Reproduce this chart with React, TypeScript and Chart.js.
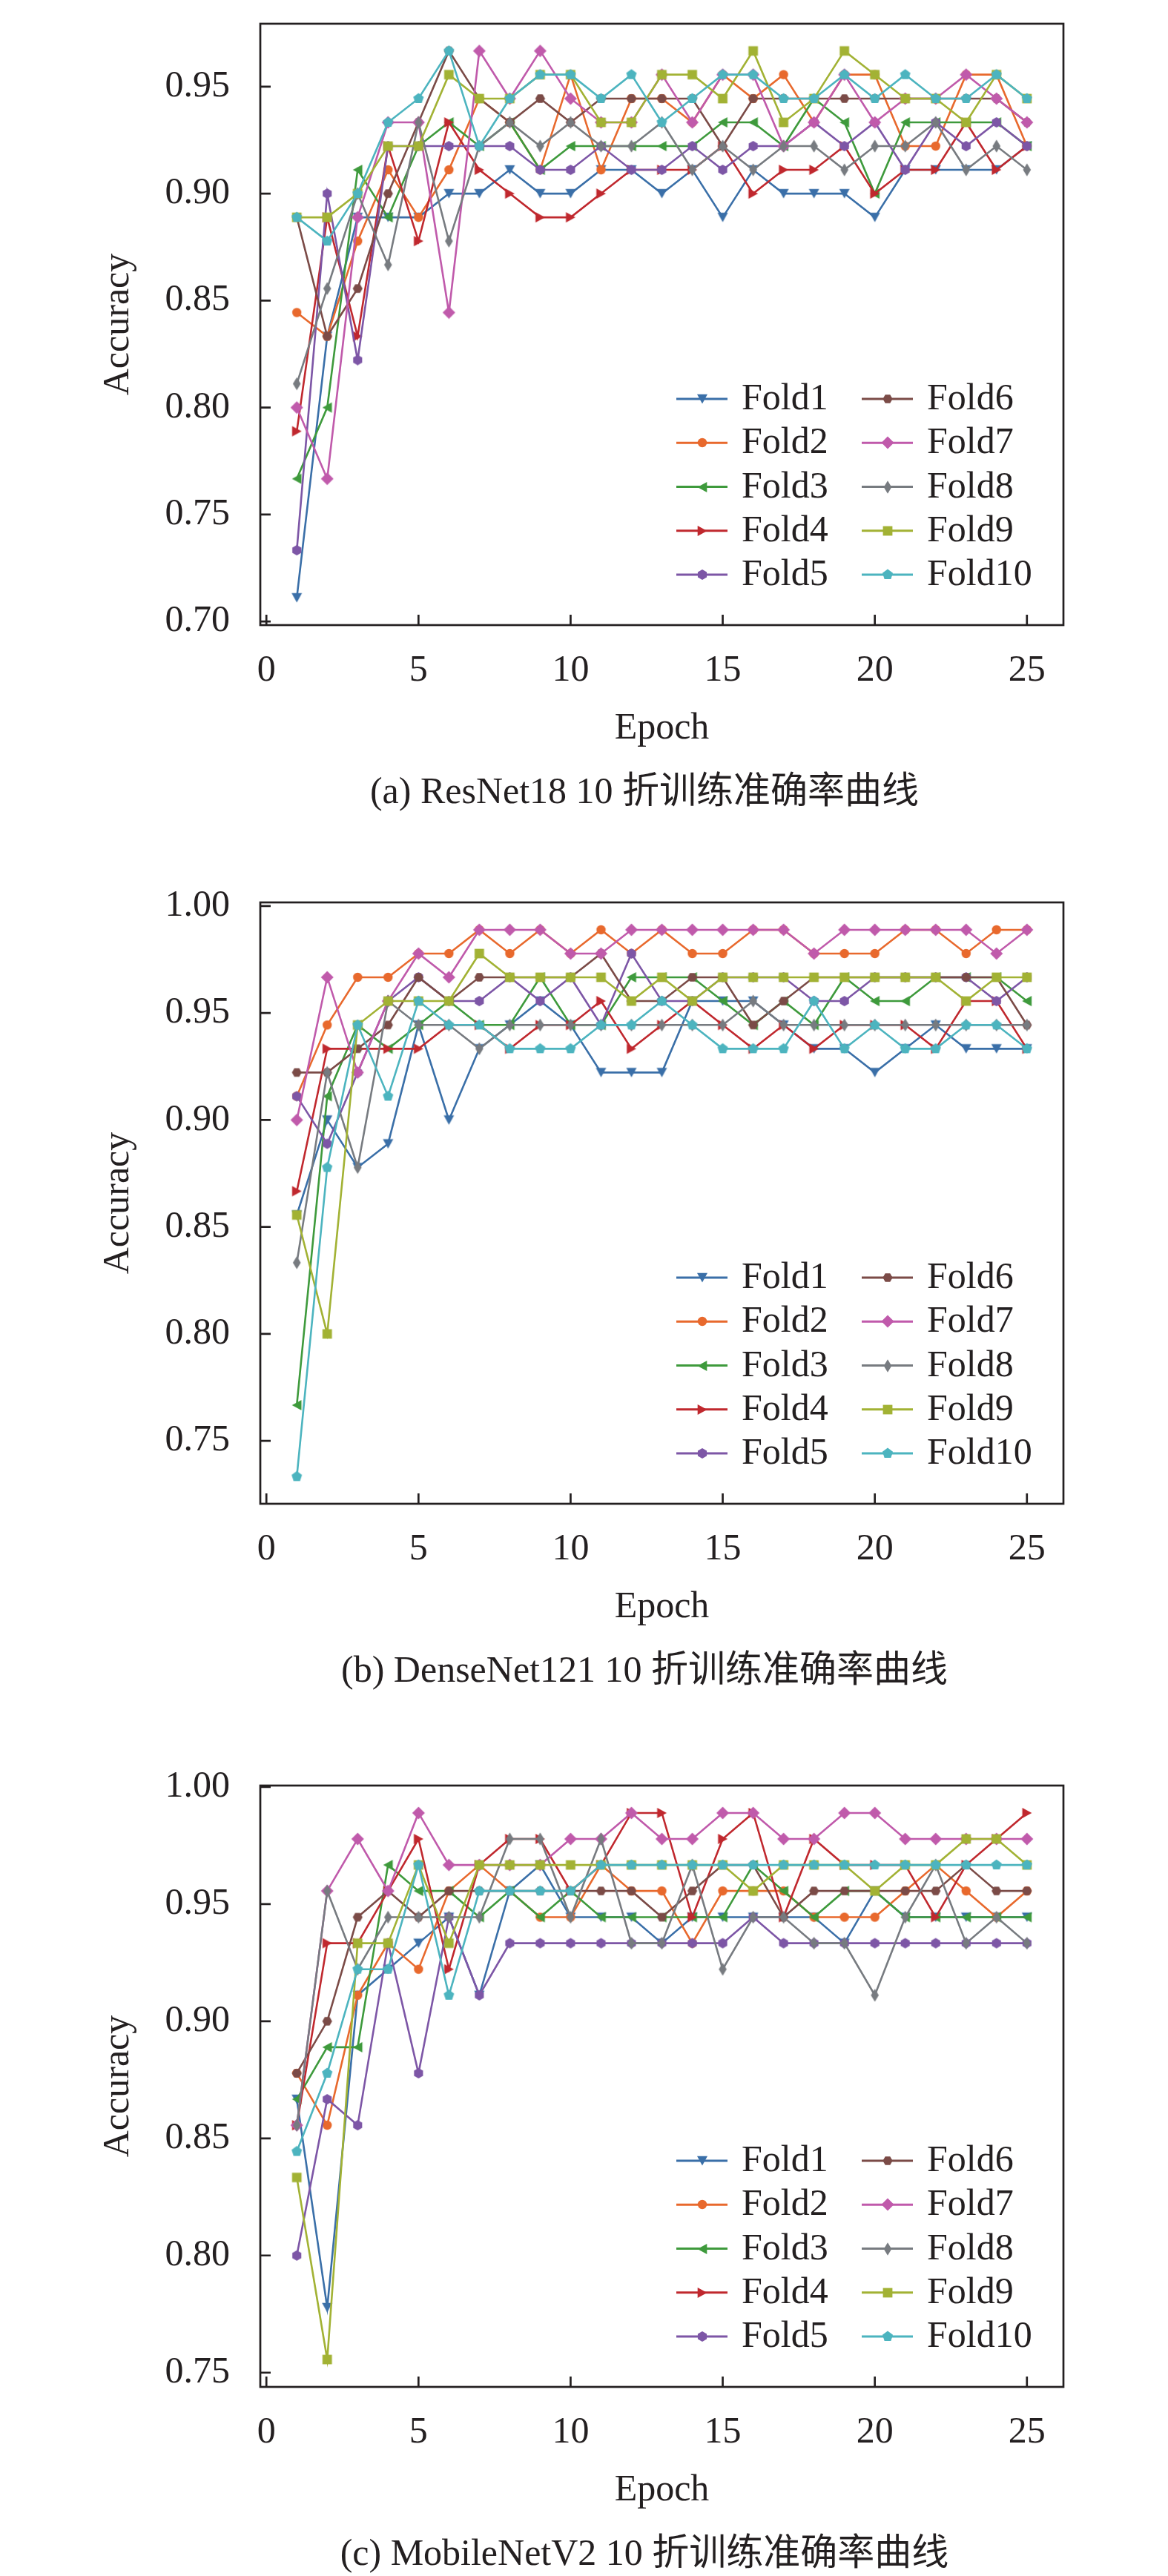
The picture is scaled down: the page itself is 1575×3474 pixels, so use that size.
import React, { useEffect, useRef } from 'react';
import { Chart, registerables } from 'chart.js';

Chart.register(...registerables);

// ---------- shared categories / ticks ----------
const epochs = [1, 2, 3, 4, 5, 6, 7, 8, 9, 10, 11, 12, 13, 14, 15, 16, 17, 18, 19, 20, 21, 22, 23, 24, 25];
const foldLabels = ['Fold1', 'Fold2', 'Fold3', 'Fold4', 'Fold5', 'Fold6', 'Fold7', 'Fold8', 'Fold9', 'Fold10'];
const xTicks = [0, 5, 10, 15, 20, 25];
const yTicksResNet = [0.7, 0.75, 0.8, 0.85, 0.9, 0.95];
const yTicksDense = [0.75, 0.8, 0.85, 0.9, 0.95, 1.0];
const yTicksMobile = [0.75, 0.8, 0.85, 0.9, 0.95, 1.0];

// ---------- (a) ResNet18 ----------
const resFold1 = [0.7111, 0.8333, 0.8889, 0.8889, 0.8889, 0.9000, 0.9000, 0.9111, 0.9000, 0.9000, 0.9111, 0.9111, 0.9000, 0.9111, 0.8889, 0.9111, 0.9000, 0.9000, 0.9000, 0.8889, 0.9111, 0.9111, 0.9111, 0.9111, 0.9222];
const resFold2 = [0.8444, 0.8333, 0.8778, 0.9111, 0.8889, 0.9111, 0.9444, 0.9333, 0.9111, 0.9556, 0.9111, 0.9444, 0.9444, 0.9333, 0.9556, 0.9444, 0.9556, 0.9333, 0.9556, 0.9556, 0.9222, 0.9222, 0.9556, 0.9556, 0.9222];
const resFold3 = [0.7667, 0.8000, 0.9111, 0.8889, 0.9222, 0.9333, 0.9222, 0.9333, 0.9111, 0.9222, 0.9222, 0.9222, 0.9222, 0.9222, 0.9333, 0.9333, 0.9222, 0.9444, 0.9333, 0.9000, 0.9333, 0.9333, 0.9333, 0.9333, 0.9222];
const resFold4 = [0.7889, 0.8889, 0.8333, 0.9222, 0.8778, 0.9333, 0.9111, 0.9000, 0.8889, 0.8889, 0.9000, 0.9111, 0.9111, 0.9111, 0.9222, 0.9000, 0.9111, 0.9111, 0.9222, 0.9000, 0.9111, 0.9111, 0.9333, 0.9111, 0.9222];
const resFold5 = [0.7333, 0.9000, 0.8222, 0.9222, 0.9222, 0.9222, 0.9222, 0.9222, 0.9111, 0.9111, 0.9222, 0.9111, 0.9111, 0.9222, 0.9111, 0.9222, 0.9222, 0.9333, 0.9222, 0.9333, 0.9111, 0.9333, 0.9222, 0.9333, 0.9222];
const resFold6 = [0.8889, 0.8333, 0.8556, 0.9000, 0.9333, 0.9667, 0.9444, 0.9333, 0.9444, 0.9333, 0.9444, 0.9444, 0.9444, 0.9444, 0.9222, 0.9444, 0.9444, 0.9444, 0.9444, 0.9444, 0.9444, 0.9444, 0.9444, 0.9444, 0.9333];
const resFold7 = [0.8000, 0.7667, 0.8889, 0.9333, 0.9333, 0.8444, 0.9667, 0.9444, 0.9667, 0.9444, 0.9333, 0.9333, 0.9556, 0.9333, 0.9556, 0.9556, 0.9222, 0.9333, 0.9556, 0.9333, 0.9444, 0.9444, 0.9556, 0.9444, 0.9333];
const resFold8 = [0.8111, 0.8556, 0.9000, 0.8667, 0.9333, 0.8778, 0.9222, 0.9333, 0.9222, 0.9333, 0.9222, 0.9222, 0.9333, 0.9111, 0.9222, 0.9111, 0.9222, 0.9222, 0.9111, 0.9222, 0.9222, 0.9333, 0.9111, 0.9222, 0.9111];
const resFold9 = [0.8889, 0.8889, 0.9000, 0.9222, 0.9222, 0.9556, 0.9444, 0.9444, 0.9556, 0.9556, 0.9333, 0.9333, 0.9556, 0.9556, 0.9444, 0.9667, 0.9333, 0.9444, 0.9667, 0.9556, 0.9444, 0.9444, 0.9333, 0.9556, 0.9444];
const resFold10 = [0.8889, 0.8778, 0.9000, 0.9333, 0.9444, 0.9667, 0.9222, 0.9444, 0.9556, 0.9556, 0.9444, 0.9556, 0.9333, 0.9444, 0.9556, 0.9556, 0.9444, 0.9444, 0.9556, 0.9444, 0.9556, 0.9444, 0.9444, 0.9556, 0.9444];

// ---------- (b) DenseNet121 ----------
const denseFold1 = [0.8556, 0.9000, 0.8778, 0.8889, 0.9444, 0.9000, 0.9333, 0.9444, 0.9556, 0.9444, 0.9222, 0.9222, 0.9222, 0.9556, 0.9556, 0.9556, 0.9444, 0.9333, 0.9333, 0.9222, 0.9333, 0.9444, 0.9333, 0.9333, 0.9333];
const denseFold2 = [0.9111, 0.9444, 0.9667, 0.9667, 0.9778, 0.9778, 0.9889, 0.9778, 0.9889, 0.9778, 0.9889, 0.9778, 0.9889, 0.9778, 0.9778, 0.9889, 0.9889, 0.9778, 0.9778, 0.9778, 0.9889, 0.9889, 0.9778, 0.9889, 0.9889];
const denseFold3 = [0.7667, 0.9111, 0.9444, 0.9333, 0.9444, 0.9556, 0.9444, 0.9444, 0.9667, 0.9444, 0.9444, 0.9667, 0.9667, 0.9667, 0.9556, 0.9444, 0.9556, 0.9444, 0.9667, 0.9556, 0.9556, 0.9667, 0.9667, 0.9667, 0.9556];
const denseFold4 = [0.8667, 0.9333, 0.9333, 0.9333, 0.9333, 0.9444, 0.9444, 0.9333, 0.9444, 0.9444, 0.9556, 0.9333, 0.9444, 0.9556, 0.9444, 0.9333, 0.9444, 0.9333, 0.9444, 0.9444, 0.9444, 0.9333, 0.9556, 0.9556, 0.9333];
const denseFold5 = [0.9111, 0.8889, 0.9222, 0.9556, 0.9667, 0.9556, 0.9556, 0.9667, 0.9556, 0.9667, 0.9444, 0.9778, 0.9556, 0.9556, 0.9667, 0.9667, 0.9667, 0.9556, 0.9556, 0.9667, 0.9667, 0.9667, 0.9667, 0.9556, 0.9667];
const denseFold6 = [0.9222, 0.9222, 0.9333, 0.9444, 0.9667, 0.9556, 0.9667, 0.9667, 0.9667, 0.9667, 0.9778, 0.9556, 0.9556, 0.9667, 0.9667, 0.9444, 0.9556, 0.9667, 0.9667, 0.9667, 0.9667, 0.9667, 0.9667, 0.9667, 0.9444];
const denseFold7 = [0.9000, 0.9667, 0.9222, 0.9556, 0.9778, 0.9667, 0.9889, 0.9889, 0.9889, 0.9778, 0.9778, 0.9889, 0.9889, 0.9889, 0.9889, 0.9889, 0.9889, 0.9778, 0.9889, 0.9889, 0.9889, 0.9889, 0.9889, 0.9778, 0.9889];
const denseFold8 = [0.8333, 0.9222, 0.8778, 0.9556, 0.9444, 0.9444, 0.9333, 0.9444, 0.9444, 0.9444, 0.9444, 0.9444, 0.9444, 0.9444, 0.9444, 0.9556, 0.9444, 0.9444, 0.9444, 0.9444, 0.9444, 0.9444, 0.9444, 0.9444, 0.9444];
const denseFold9 = [0.8556, 0.8000, 0.9444, 0.9556, 0.9556, 0.9556, 0.9778, 0.9667, 0.9667, 0.9667, 0.9667, 0.9556, 0.9667, 0.9556, 0.9667, 0.9667, 0.9667, 0.9667, 0.9667, 0.9667, 0.9667, 0.9667, 0.9556, 0.9667, 0.9667];
const denseFold10 = [0.7333, 0.8778, 0.9444, 0.9111, 0.9556, 0.9444, 0.9444, 0.9333, 0.9333, 0.9333, 0.9444, 0.9444, 0.9556, 0.9444, 0.9333, 0.9333, 0.9333, 0.9556, 0.9333, 0.9444, 0.9333, 0.9333, 0.9444, 0.9444, 0.9333];

// ---------- (c) MobileNetV2 ----------
const mobFold1 = [0.8667, 0.7778, 0.9111, 0.9222, 0.9333, 0.9444, 0.9111, 0.9556, 0.9667, 0.9444, 0.9444, 0.9444, 0.9333, 0.9444, 0.9444, 0.9444, 0.9444, 0.9444, 0.9333, 0.9556, 0.9444, 0.9444, 0.9444, 0.9444, 0.9444];
const mobFold2 = [0.8778, 0.8556, 0.9111, 0.9333, 0.9222, 0.9556, 0.9667, 0.9556, 0.9444, 0.9444, 0.9667, 0.9556, 0.9556, 0.9333, 0.9556, 0.9556, 0.9556, 0.9444, 0.9444, 0.9444, 0.9556, 0.9667, 0.9556, 0.9444, 0.9556];
const mobFold3 = [0.8667, 0.8889, 0.8889, 0.9667, 0.9556, 0.9556, 0.9444, 0.9556, 0.9444, 0.9556, 0.9444, 0.9444, 0.9444, 0.9444, 0.9444, 0.9667, 0.9556, 0.9444, 0.9556, 0.9556, 0.9444, 0.9444, 0.9444, 0.9444, 0.9444];
const mobFold4 = [0.8556, 0.9333, 0.9333, 0.9556, 0.9778, 0.9222, 0.9667, 0.9778, 0.9778, 0.9556, 0.9667, 0.9889, 0.9889, 0.9444, 0.9778, 0.9889, 0.9444, 0.9778, 0.9667, 0.9667, 0.9667, 0.9444, 0.9667, 0.9778, 0.9889];
const mobFold5 = [0.8000, 0.8667, 0.8556, 0.9333, 0.8778, 0.9444, 0.9111, 0.9333, 0.9333, 0.9333, 0.9333, 0.9333, 0.9333, 0.9333, 0.9333, 0.9444, 0.9333, 0.9333, 0.9333, 0.9333, 0.9333, 0.9333, 0.9333, 0.9333, 0.9333];
const mobFold6 = [0.8778, 0.9000, 0.9444, 0.9556, 0.9444, 0.9556, 0.9556, 0.9556, 0.9556, 0.9556, 0.9556, 0.9556, 0.9444, 0.9556, 0.9667, 0.9667, 0.9444, 0.9556, 0.9556, 0.9556, 0.9556, 0.9556, 0.9667, 0.9556, 0.9556];
const mobFold7 = [0.8556, 0.9556, 0.9778, 0.9556, 0.9889, 0.9667, 0.9667, 0.9667, 0.9667, 0.9778, 0.9778, 0.9889, 0.9778, 0.9778, 0.9889, 0.9889, 0.9778, 0.9778, 0.9889, 0.9889, 0.9778, 0.9778, 0.9778, 0.9778, 0.9778];
const mobFold8 = [0.8556, 0.9556, 0.9222, 0.9444, 0.9444, 0.9444, 0.9444, 0.9778, 0.9778, 0.9444, 0.9778, 0.9333, 0.9333, 0.9667, 0.9222, 0.9444, 0.9444, 0.9333, 0.9333, 0.9111, 0.9444, 0.9667, 0.9333, 0.9444, 0.9333];
const mobFold9 = [0.8333, 0.7556, 0.9333, 0.9333, 0.9667, 0.9333, 0.9667, 0.9667, 0.9667, 0.9667, 0.9667, 0.9667, 0.9667, 0.9667, 0.9667, 0.9556, 0.9667, 0.9667, 0.9667, 0.9556, 0.9667, 0.9667, 0.9778, 0.9778, 0.9667];
const mobFold10 = [0.8444, 0.8778, 0.9222, 0.9222, 0.9667, 0.9111, 0.9556, 0.9556, 0.9556, 0.9556, 0.9667, 0.9667, 0.9667, 0.9667, 0.9667, 0.9667, 0.9667, 0.9667, 0.9667, 0.9667, 0.9667, 0.9667, 0.9667, 0.9667, 0.9667];

const resSeries = [resFold1, resFold2, resFold3, resFold4, resFold5, resFold6, resFold7, resFold8, resFold9, resFold10];
const denseSeries = [denseFold1, denseFold2, denseFold3, denseFold4, denseFold5, denseFold6, denseFold7, denseFold8, denseFold9, denseFold10];
const mobSeries = [mobFold1, mobFold2, mobFold3, mobFold4, mobFold5, mobFold6, mobFold7, mobFold8, mobFold9, mobFold10];

// ---------- styles ----------
const foldColors = ['#3A6FA8', '#E8692D', '#3E9A3C', '#C0282E', '#7D56A6', '#7B4B47', '#C05AAB', '#777B80', '#A2B234', '#4CB4BF'];
const foldMarkers = ['tri_down', 'circle', 'tri_left', 'tri_right', 'hexagon', 'hexagon_flat', 'diamond', 'thin_diamond', 'square', 'pentagon'];

const FONT = "'Liberation Serif', 'Times New Roman', 'Noto Sans CJK SC', serif";
const INK = '#231F20';
const PLOT_H = 842;
const PAD_TOP = 40;
const X_AXIS_H = 186;
const CANVAS_W = 1575;
const CANVAS_H = PAD_TOP + PLOT_H + X_AXIS_H;
const PLOT_LEFT = 351;
const PLOT_RIGHT = 1434;

function makeMarker(shape: string, color: string): HTMLCanvasElement {
  const S = 22;
  const c = document.createElement('canvas');
  c.width = S;
  c.height = S;
  const g = c.getContext('2d') as CanvasRenderingContext2D;
  g.fillStyle = color;
  g.translate(S / 2, S / 2);
  g.beginPath();
  const poly = (pts: number[][]) => {
    pts.forEach(([px, py], i) => (i ? g.lineTo(px, py) : g.moveTo(px, py)));
    g.closePath();
  };
  const regular = (n: number, r: number, start: number) => {
    const pts: number[][] = [];
    for (let k = 0; k < n; k++) {
      const a = start + (k * 2 * Math.PI) / n;
      pts.push([r * Math.cos(a), r * Math.sin(a)]);
    }
    poly(pts);
  };
  switch (shape) {
    case 'tri_down':
      poly([[-7, -6.3], [7, -6.3], [0, 6.5]]);
      break;
    case 'tri_left':
      poly([[6.3, -7], [6.3, 7], [-6.5, 0]]);
      break;
    case 'tri_right':
      poly([[-6.3, -7], [-6.3, 7], [6.5, 0]]);
      break;
    case 'circle':
      g.arc(0, 0, 6.2, 0, Math.PI * 2);
      break;
    case 'hexagon':
      regular(6, 7, -Math.PI / 2);
      break;
    case 'hexagon_flat':
      regular(6, 6.6, 0);
      break;
    case 'diamond':
      poly([[0, -8.5], [8.5, 0], [0, 8.5], [-8.5, 0]]);
      break;
    case 'thin_diamond':
      poly([[0, -8.7], [5.3, 0], [0, 8.7], [-5.3, 0]]);
      break;
    case 'square':
      g.rect(-6.4, -6.4, 12.8, 12.8);
      break;
    case 'pentagon':
      regular(5, 7.4, -Math.PI / 2);
      break;
    default:
      g.arc(0, 0, 6, 0, Math.PI * 2);
  }
  g.fill();
  return c;
}

const frameAndTicks = {
  id: 'frameAndTicks',
  afterDatasetsDraw(chart: any) {
    const { ctx, chartArea: a, scales } = chart;
    const xs = scales.x;
    const ys = scales.y;
    ctx.save();
    ctx.strokeStyle = INK;
    ctx.lineWidth = 2.7;
    ctx.beginPath();
    ys.ticks.forEach((t: any) => {
      const py = ys.getPixelForValue(t.value);
      ctx.moveTo(a.left, py);
      ctx.lineTo(a.left + 14, py);
    });
    xs.ticks.forEach((t: any) => {
      const px = xs.getPixelForValue(t.value);
      ctx.moveTo(px, a.bottom);
      ctx.lineTo(px, a.bottom - 14);
    });
    ctx.stroke();
    ctx.strokeRect(a.left, a.top, a.right - a.left, a.bottom - a.top);
    ctx.restore();
  },
};

const insideLegend = {
  id: 'insideLegend',
  afterDraw(chart: any) {
    const { ctx, chartArea: a } = chart;
    ctx.save();
    ctx.font = `50px ${FONT}`;
    ctx.textBaseline = 'alphabetic';
    ctx.textAlign = 'left';
    chart.data.datasets.forEach((ds: any, i: number) => {
      const col = Math.floor(i / 5);
      const row = i % 5;
      const y = a.bottom - 68 - (4 - row) * 59.25;
      const x0 = a.right + (col === 0 ? -522 : -272);
      ctx.strokeStyle = ds.borderColor;
      ctx.lineWidth = 2.8;
      ctx.beginPath();
      ctx.moveTo(x0, y);
      ctx.lineTo(x0 + 69, y);
      ctx.stroke();
      const img = ds.pointStyle as HTMLCanvasElement;
      ctx.drawImage(img, Math.round(x0 + 34.5 - img.width / 2), Math.round(y - img.height / 2));
      ctx.fillStyle = INK;
      ctx.fillText(ds.label, x0 + 88, y + 14);
    });
    ctx.restore();
  },
};

type FoldChartProps = {
  plotTop: number;
  series: number[][];
  yMin: number;
  yMax: number;
  yTicks: number[];
  caption: string;
};

function FoldChart({ plotTop, series, yMin, yMax, yTicks, caption }: FoldChartProps) {
  const ref = useRef<HTMLCanvasElement>(null);

  useEffect(() => {
    const canvas = ref.current;
    if (!canvas) return;
    const datasets = series.map((vals, i) => ({
      label: foldLabels[i],
      data: epochs.map((e, k) => ({ x: e, y: vals[k] })),
      borderColor: foldColors[i],
      backgroundColor: foldColors[i],
      borderWidth: 2.6,
      pointStyle: makeMarker(foldMarkers[i], foldColors[i]) as any,
      pointRadius: 7,
      pointHoverRadius: 7,
      tension: 0,
      fill: false,
      order: 9 - i,
    }));
    const chart = new Chart(canvas, {
      type: 'line',
      data: { datasets },
      options: {
        animation: false,
        responsive: false,
        devicePixelRatio: 1,
        events: [],
        layout: { padding: { top: PAD_TOP, left: 0, right: CANVAS_W - PLOT_RIGHT, bottom: 0 } },
        plugins: { legend: { display: false }, tooltip: { enabled: false }, title: { display: false } },
        scales: {
          x: {
            type: 'linear',
            min: -0.2,
            max: 26.2,
            grid: { display: false, drawTicks: false, tickLength: 0 },
            border: { display: false },
            afterBuildTicks: (s: any) => {
              s.ticks = xTicks.map((v) => ({ value: v }));
            },
            afterFit: (s: any) => {
              s.height = X_AXIS_H;
            },
            ticks: {
              padding: 32,
              maxRotation: 0,
              autoSkip: false,
              color: INK,
              font: { family: FONT, size: 50 },
              callback: (v: any) => String(v),
            },
            title: {
              display: true,
              text: 'Epoch',
              color: INK,
              font: { family: FONT, size: 50 },
              padding: { top: 0, bottom: 16 },
            },
          },
          y: {
            type: 'linear',
            min: yMin,
            max: yMax,
            grid: { display: false, drawTicks: false, tickLength: 0 },
            border: { display: false },
            afterBuildTicks: (s: any) => {
              s.ticks = yTicks.map((v) => ({ value: v }));
            },
            afterFit: (s: any) => {
              s.width = PLOT_LEFT;
            },
            ticks: {
              padding: 41,
              autoSkip: false,
              color: INK,
              font: { family: FONT, size: 50 },
              callback: (v: any) => Number(v).toFixed(2),
            },
            title: {
              display: true,
              text: 'Accuracy',
              color: INK,
              font: { family: FONT, size: 50 },
              padding: { top: 130, bottom: 0 },
            },
          },
        },
      },
      plugins: [frameAndTicks, insideLegend],
    } as any);
    return () => chart.destroy();
  }, [plotTop, series, yMin, yMax, yTicks]);

  return (
    <>
      <canvas
        ref={ref}
        width={CANVAS_W}
        height={CANVAS_H}
        style={{ position: 'absolute', left: 0, top: plotTop - PAD_TOP, width: CANVAS_W, height: CANVAS_H, display: 'block' }}
      />
      <div
        style={{
          position: 'absolute',
          left: 869,
          top: plotTop + 1040,
          transform: 'translateX(-50%)',
          whiteSpace: 'nowrap',
          fontFamily: FONT,
          fontSize: 50,
          lineHeight: '50px',
          color: INK,
        }}
      >
        {caption}
      </div>
    </>
  );
}

export default function App() {
  return (
    <div style={{ position: 'absolute', left: 0, top: 0, width: 1575, height: 3474, background: '#ffffff', overflow: 'hidden' }}>
      <FoldChart plotTop={1} series={resSeries} yMin={0.6983} yMax={0.9794} yTicks={yTicksResNet} caption="(a) ResNet18 10 折训练准确率曲线" />
      <FoldChart plotTop={1186} series={denseSeries} yMin={0.7206} yMax={1.0017} yTicks={yTicksDense} caption="(b) DenseNet121 10 折训练准确率曲线" />
      <FoldChart plotTop={2377} series={mobSeries} yMin={0.7439} yMax={1.0006} yTicks={yTicksMobile} caption="(c) MobileNetV2 10 折训练准确率曲线" />
    </div>
  );
}
